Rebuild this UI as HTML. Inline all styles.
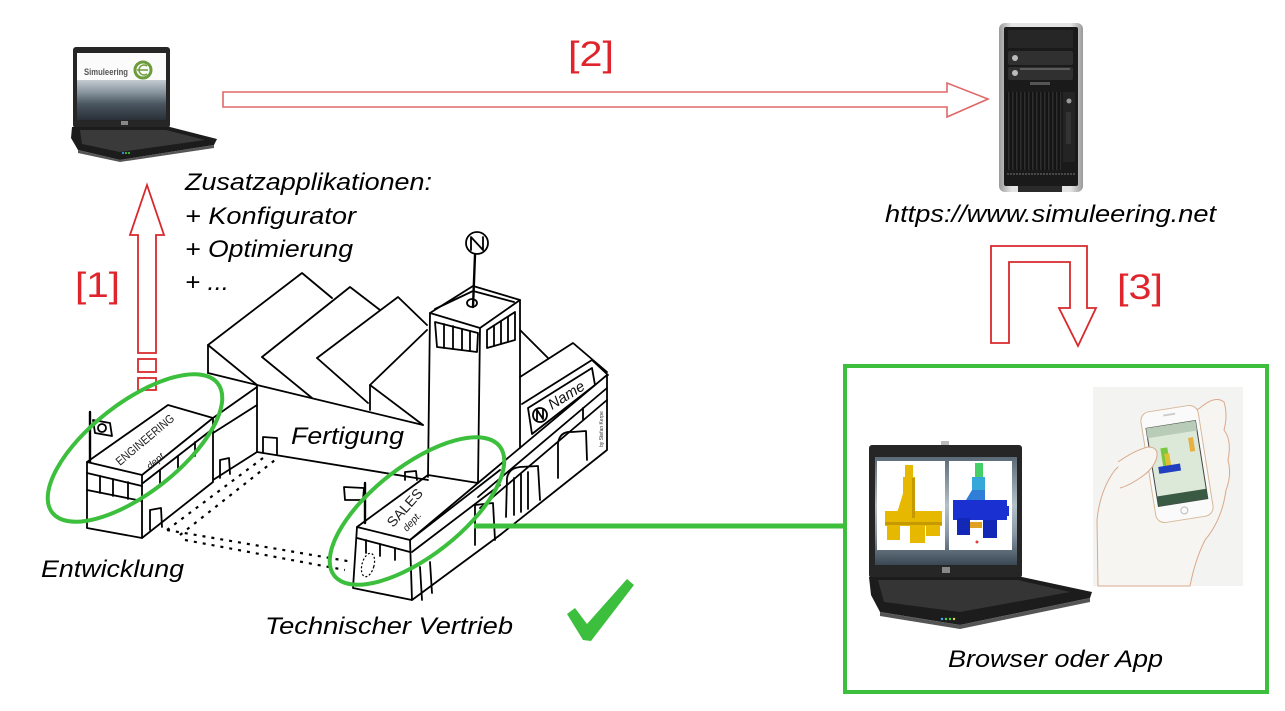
<!DOCTYPE html>
<html><head><meta charset="utf-8">
<style>
html,body{margin:0;padding:0;background:#fff;}
svg{display:block;}
text{font-family:"Liberation Sans",Arial,sans-serif;}
.it{font-style:italic;fill:#000;font-size:24px;}
.red{fill:#e0242c;font-size:35px;}
.ln{fill:none;stroke:#000;stroke-width:1.8;stroke-linejoin:round;stroke-linecap:round;}
.thin{fill:none;stroke:#000;stroke-width:1.2;}
</style></head><body>
<svg width="1285" height="711" viewBox="0 0 1285 711" xmlns="http://www.w3.org/2000/svg">
<defs>
<linearGradient id="scr1" x1="0" y1="0" x2="0" y2="1">
<stop offset="0" stop-color="#c4ccd2"/><stop offset="0.3" stop-color="#8a96a0"/><stop offset="0.6" stop-color="#4a5660"/><stop offset="1" stop-color="#2a3038"/>
</linearGradient>
<linearGradient id="scr2" x1="0" y1="0" x2="0" y2="1">
<stop offset="0" stop-color="#5a6a76"/><stop offset="0.45" stop-color="#b4c0c8"/><stop offset="0.7" stop-color="#8a9aa6"/><stop offset="1" stop-color="#3a4854"/>
</linearGradient>
<linearGradient id="silver" x1="0" y1="0" x2="1" y2="0">
<stop offset="0" stop-color="#9a9a9a"/><stop offset="0.15" stop-color="#e4e4e4"/><stop offset="0.85" stop-color="#e4e4e4"/><stop offset="1" stop-color="#9a9a9a"/>
</linearGradient>
<pattern id="vent" width="4" height="10" patternUnits="userSpaceOnUse">
<rect width="4" height="10" fill="#141414"/><rect x="0" width="1.5" height="10" fill="#2e2e2e"/>
</pattern>
</defs>
<rect width="1285" height="711" fill="#fff"/>

<!-- ===== Top-left laptop ===== -->
<rect x="73" y="47" width="97" height="81" rx="3" fill="#262626"/>
<rect x="77" y="53" width="89" height="27" fill="#fbfbfb"/>
<rect x="77" y="80" width="89" height="40" fill="url(#scr1)"/>
<text x="84" y="75" font-size="9" font-weight="bold" fill="#555" textLength="44" lengthAdjust="spacingAndGlyphs">Simuleering</text>
<circle cx="143" cy="70" r="8" fill="none" stroke="#6c9c3c" stroke-width="3"/>
<path d="M137,70 H148 M147,66 A5,5 0 1 0 147,74" fill="none" stroke="#6c9c3c" stroke-width="1.5"/>
<rect x="121" y="121" width="7" height="4" fill="#888"/>
<polygon points="72,127 170,127 217,139 214,145 120,160 78,150 71,138" fill="#1c1c1c"/>
<polygon points="80,130 166,130 205,140 120,152 82,144" fill="#3a3a3a"/>
<polygon points="78,150 120,160 214,145 214,148 120,162 78,153" fill="#555"/>
<circle cx="123" cy="153" r="1" fill="#4af"/><circle cx="126" cy="153" r="1" fill="#4d4"/><circle cx="129" cy="153" r="1" fill="#4d4"/>

<!-- ===== Server ===== -->
<rect x="999" y="23" width="84" height="169" rx="6" fill="url(#silver)"/>
<rect x="1004" y="27" width="74" height="159" rx="2" fill="#1a1a1a"/>
<rect x="1008" y="30" width="65" height="18" fill="#262626"/>
<rect x="1008" y="51" width="65" height="14" rx="2" fill="#303030"/>
<rect x="1008" y="67" width="65" height="13" rx="2" fill="#303030"/>
<circle cx="1015" cy="58" r="3" fill="#bbb"/><circle cx="1015" cy="73" r="3" fill="#bbb"/>
<line x1="1020" y1="69" x2="1070" y2="69" stroke="#888" stroke-width="1"/>
<rect x="1030" y="82" width="20" height="3" fill="#555"/>
<rect x="1006" y="92" width="55" height="78" fill="url(#vent)"/>
<rect x="1063" y="92" width="12" height="70" fill="#242424"/>
<circle cx="1069" cy="101" r="2.5" fill="#999"/>
<rect x="1066" y="112" width="5" height="32" fill="#333"/>
<line x1="1007" y1="174" x2="1075" y2="174" stroke="#777" stroke-width="1" stroke-dasharray="2,1"/>
<rect x="1018" y="186" width="44" height="6" fill="#2a2a2a"/>

<!-- ===== Arrows ===== -->
<polygon points="223,92 947,92 947,83 988,99 947,117 947,107 223,107" fill="none" stroke="#e06868" stroke-width="1.6"/>
<polygon points="138,353 138,235 130,235 147,185 164,235 156,235 156,353" fill="none" stroke="#d8282c" stroke-width="1.8"/>
<rect x="138" y="359" width="18" height="13" fill="none" stroke="#d8282c" stroke-width="1.8"/>
<rect x="138" y="378" width="18" height="12" fill="none" stroke="#d8282c" stroke-width="1.8"/>
<polygon points="991,343 991,246 1087,246 1087,308 1096,308 1078,346 1059,308 1070,308 1070,262 1009,262 1009,343" fill="none" stroke="#d8282c" stroke-width="1.8"/>

<!-- ===== Labels ===== -->
<text x="75" y="297" class="red" textLength="45" lengthAdjust="spacingAndGlyphs">[1]</text>
<text x="568" y="66" class="red" textLength="46" lengthAdjust="spacingAndGlyphs">[2]</text>
<text x="1117" y="299" class="red" textLength="46" lengthAdjust="spacingAndGlyphs">[3]</text>

<text x="185" y="190" class="it" textLength="247" lengthAdjust="spacingAndGlyphs">Zusatzapplikationen:</text>
<text x="185" y="224" class="it" textLength="171" lengthAdjust="spacingAndGlyphs">+ Konfigurator</text>
<text x="185" y="257" class="it" textLength="168" lengthAdjust="spacingAndGlyphs">+ Optimierung</text>
<text x="185" y="290" class="it" textLength="44" lengthAdjust="spacingAndGlyphs">+ ...</text>
<text x="885" y="222" class="it" font-size="25" textLength="331" lengthAdjust="spacingAndGlyphs">https://www.simuleering.net</text>

<!-- ===== Building sketch ===== -->
<g class="ln">
<path d="M208,373 L208,345 L302,273 L332,298"/>
<path d="M208,345 L257,385"/>
<path d="M262,357 L350,287 L380,310"/>
<path d="M262,357 L312,398"/>
<path d="M317,358 L398,297 L427,325"/>
<path d="M317,358 L368,403"/>
<path d="M370,385 L427,330"/>
<path d="M370,385 L423,425"/>
<path d="M370,385 L370,410"/>
<path d="M208,373 L257,385 L423,425"/>
<path d="M257,385 L257,452 L428,480"/>
<path d="M263,453 L263,437 L277,438 L277,455"/>
<path d="M430,313 L480,328 L520,300 L473,286 Z"/>
<path d="M435,309 L473,291 L514,302"/>
<path d="M430,313 L428,477"/>
<path d="M480,328 L478,483"/>
<path d="M520,300 L520,448"/>
<path d="M435,322 L478,333 L477,352 L437,347 Z"/>
<path d="M444,324 L444,348 M453,326 L453,349 M462,329 L462,350 M470,331 L470,351"/>
<path d="M487,330 L515,312 L515,340 L487,348 Z"/>
<path d="M494,326 L494,346 M501,321 L501,344 M508,317 L508,342"/>
<path d="M473,307 L475,255" stroke-width="2.4"/>
<ellipse cx="472" cy="303" rx="5" ry="4"/>
<circle cx="477" cy="243" r="11"/>
<path d="M471,250 L471,237 L483,250 L483,237"/>
<path d="M520,330 L548,358"/>
<path d="M520,377 L573,343 L607,372"/>
<path d="M528,408 L592,368 L595,385 L532,434 Z"/>
<path d="M522,404 L592,360 L608,375"/>
<circle cx="540" cy="415" r="7"/>
<path d="M537,420 L537,410 L543,419 L543,409"/>
<path d="M478,483 L607,375 L607,450 L500,535"/>
<path d="M478,497 L607,388"/>
<path d="M480,508 L607,400"/>
<path d="M558,478 L558,443 Q560,431 572,432 L586,431 L587,460"/>
<path d="M506,517 L507,478 Q509,468 520,467 L538,466 L540,500"/>
<path d="M514,515 L514,478 M521,512 L521,474 M528,509 L528,472"/>
<path d="M475,545 L475,505 L493,503 L495,540"/>
<path d="M583,420 L583,408"/>
<path d="M357,527 L428,475 L478,483 L410,540 Z"/>
<path d="M357,527 L353,588 L412,600 L410,540"/>
<path d="M357,538 L410,552"/>
<path d="M366,540 L366,553 M380,544 L380,556 M395,548 L395,560"/>
<path d="M410,540 L500,470"/>
<path d="M412,552 L500,485"/>
<path d="M412,600 L500,535"/>
<path d="M420,567 L422,600 M430,562 L432,593"/>
<path d="M405,480 L405,472 L416,471 L417,480"/>
<path d="M365,483 L365,523" stroke-width="2.4"/>
<path d="M344,487 L364,488 L363,500 L345,500 Z"/>
<path d="M87,462 L142,475 L213,418 L168,405 Z"/>
<path d="M87,462 L87,528 L142,538 L142,475"/>
<path d="M87,473 L142,486"/>
<path d="M87,490 L142,501"/>
<path d="M100,476 L100,493 M113,479 L113,496 M128,482 L128,499"/>
<path d="M142,538 L213,482 L213,418"/>
<path d="M143,483 L210,431"/>
<path d="M160,470 L160,484 M178,456 L178,470 M195,442 L195,456"/>
<path d="M150,530 L150,510 L161,508 L162,527"/>
<path d="M213,418 L257,387"/>
<path d="M213,433 L257,405"/>
<path d="M213,480 L257,452"/>
<path d="M220,478 L220,460 L229,458 L230,474"/>
<path d="M90,412 L90,462" stroke-width="2.4"/>
<path d="M93,420 L110,423 L112,436 L95,433 Z"/>
<circle cx="102" cy="428" r="4"/>
</g>
<g fill="none" stroke="#000" stroke-width="2.2" stroke-dasharray="3,6">
<path d="M167,530 L267,455"/>
<path d="M180,535 L275,460"/>
<path d="M167,530 L353,562"/>
<path d="M185,540 L345,570"/>
</g>
<ellipse cx="368" cy="565" rx="6" ry="12" fill="none" stroke="#000" stroke-width="1.2" stroke-dasharray="2,2" transform="rotate(15 368 565)"/>
<text x="0" y="0" font-size="12" fill="#222" transform="translate(120,466) rotate(-40)" textLength="72" lengthAdjust="spacingAndGlyphs">ENGINEERING</text>
<text x="0" y="0" font-size="10" fill="#222" font-style="italic" transform="translate(150,470) rotate(-40)">dept.</text>
<text x="0" y="0" font-size="14" fill="#222" transform="translate(393,528) rotate(-48)" textLength="46" lengthAdjust="spacingAndGlyphs">SALES</text>
<text x="0" y="0" font-size="10" fill="#222" font-style="italic" transform="translate(407,532) rotate(-48)">dept.</text>
<text x="0" y="0" font-size="15" fill="#111" font-style="italic" transform="translate(552,410) rotate(-32)">Name</text>
<text x="0" y="0" font-size="5" fill="#333" transform="translate(603,447) rotate(-90)">by Stefan Kerpe</text>

<text x="291" y="444" class="it" textLength="113" lengthAdjust="spacingAndGlyphs">Fertigung</text>
<text x="41" y="577" class="it" textLength="143" lengthAdjust="spacingAndGlyphs">Entwicklung</text>
<text x="265" y="634" class="it" textLength="248" lengthAdjust="spacingAndGlyphs">Technischer Vertrieb</text>

<!-- ===== Green elements ===== -->
<g fill="none" stroke="#3cbf3c" stroke-width="4">
<ellipse cx="135" cy="448" rx="105" ry="45" transform="rotate(-38 135 448)"/>
<ellipse cx="417" cy="511" rx="105" ry="45" transform="rotate(-38 417 511)"/>
<line x1="474" y1="526" x2="845" y2="526" stroke-width="5"/>
<rect x="845" y="366" width="422" height="326"/>
</g>
<polygon points="567,614 575,608 587,624 627,579 634,585 591,641 583,640" fill="#3cbf3c"/>

<!-- ===== Bottom-right laptop ===== -->
<rect x="941" y="441" width="8" height="5" fill="#bbb"/>
<rect x="869" y="445" width="153" height="133" rx="3" fill="#262626"/>
<rect x="875" y="457" width="142" height="108" fill="url(#scr2)"/>
<rect x="877" y="461" width="68" height="89" fill="#fff"/>
<rect x="949" y="461" width="63" height="89" fill="#fff"/>
<g fill="#e6b800">
<rect x="905" y="465" width="8" height="14"/>
<rect x="903" y="477" width="12" height="40"/>
<polygon points="897,513 905,487 915,490 915,513"/>
<rect x="885" y="511" width="57" height="15"/>
<rect x="887" y="524" width="13" height="16"/>
<rect x="910" y="524" width="15" height="19"/>
<rect x="926" y="524" width="14" height="12"/>
</g>
<g fill="#c49a00"><rect x="912" y="478" width="3" height="40"/><rect x="885" y="522" width="57" height="3"/></g>
<rect x="975" y="463" width="8" height="15" fill="#44d066"/>
<rect x="972" y="477" width="13" height="26" fill="#34a8d8"/>
<polygon points="966,500 972,490 985,490 985,502" fill="#2f7fd8"/>
<rect x="953" y="500" width="54" height="20" fill="#1a30d0"/>
<rect x="957" y="518" width="13" height="17" fill="#1428b8"/>
<rect x="983" y="520" width="14" height="18" fill="#1428b8"/>
<rect x="970" y="522" width="12" height="6" fill="#e0a020"/>
<rect x="997" y="506" width="12" height="10" fill="#1a30d0"/>
<circle cx="977" cy="542" r="1.5" fill="#e04040"/>
<rect x="942" y="567" width="8" height="6" fill="#888"/>
<polygon points="869,577 1022,577 1092,592 1090,598 960,625 880,612 871,595" fill="#1c1c1c"/>
<polygon points="878,580 1018,580 1070,592 960,612 884,602" fill="#353535"/>
<polygon points="880,612 960,625 1090,598 1090,602 960,629 880,616" fill="#555"/>
<circle cx="942" cy="619" r="1.2" fill="#4af"/><circle cx="946" cy="619" r="1.2" fill="#4d4"/><circle cx="950" cy="619" r="1.2" fill="#4d4"/><circle cx="954" cy="619" r="1.2" fill="#dd4"/>

<!-- ===== Phone photo ===== -->
<rect x="1093" y="387" width="150" height="199" fill="#f3f3f1"/>
<path d="M1098,586 L1097,520 Q1100,490 1115,470 Q1130,455 1147,448 L1160,430 L1200,408 Q1215,395 1224,402 Q1228,415 1224,430 Q1232,440 1228,460 Q1232,475 1226,490 Q1222,520 1205,540 Q1195,560 1190,586 Z" fill="#f6f5f2" stroke="#d9a98c" stroke-width="1"/>
<g transform="rotate(-9 1177 464)">
<rect x="1148" y="408" width="58" height="112" rx="9" fill="#fafafa" stroke="#d8b898" stroke-width="1"/>
<rect x="1152" y="424" width="50" height="79" fill="#dce8d8" stroke="#444" stroke-width="1"/>
<rect x="1152" y="424" width="50" height="10" fill="#b8ccb8"/>
<rect x="1152" y="493" width="50" height="10" fill="#3a5a44"/>
<rect x="1163" y="446" width="7" height="20" fill="#7ac840"/>
<rect x="1166" y="452" width="5" height="14" fill="#e0c030"/>
<rect x="1158" y="464" width="22" height="7" fill="#2040c0"/>
<rect x="1192" y="440" width="5" height="14" fill="#e8b040"/>
<rect x="1171" y="413" width="12" height="2" fill="#ccc"/>
<circle cx="1177" cy="511" r="3.5" fill="none" stroke="#bbb" stroke-width="1"/>
</g>
<path d="M1118,462 Q1135,450 1148,447 Q1158,447 1157,456 Q1155,468 1140,478 Q1128,486 1120,488" fill="#f6f5f2" stroke="#d9a98c" stroke-width="1"/>

<text x="948" y="667" class="it" font-size="25" textLength="215" lengthAdjust="spacingAndGlyphs">Browser oder App</text>
</svg>
</body></html>
